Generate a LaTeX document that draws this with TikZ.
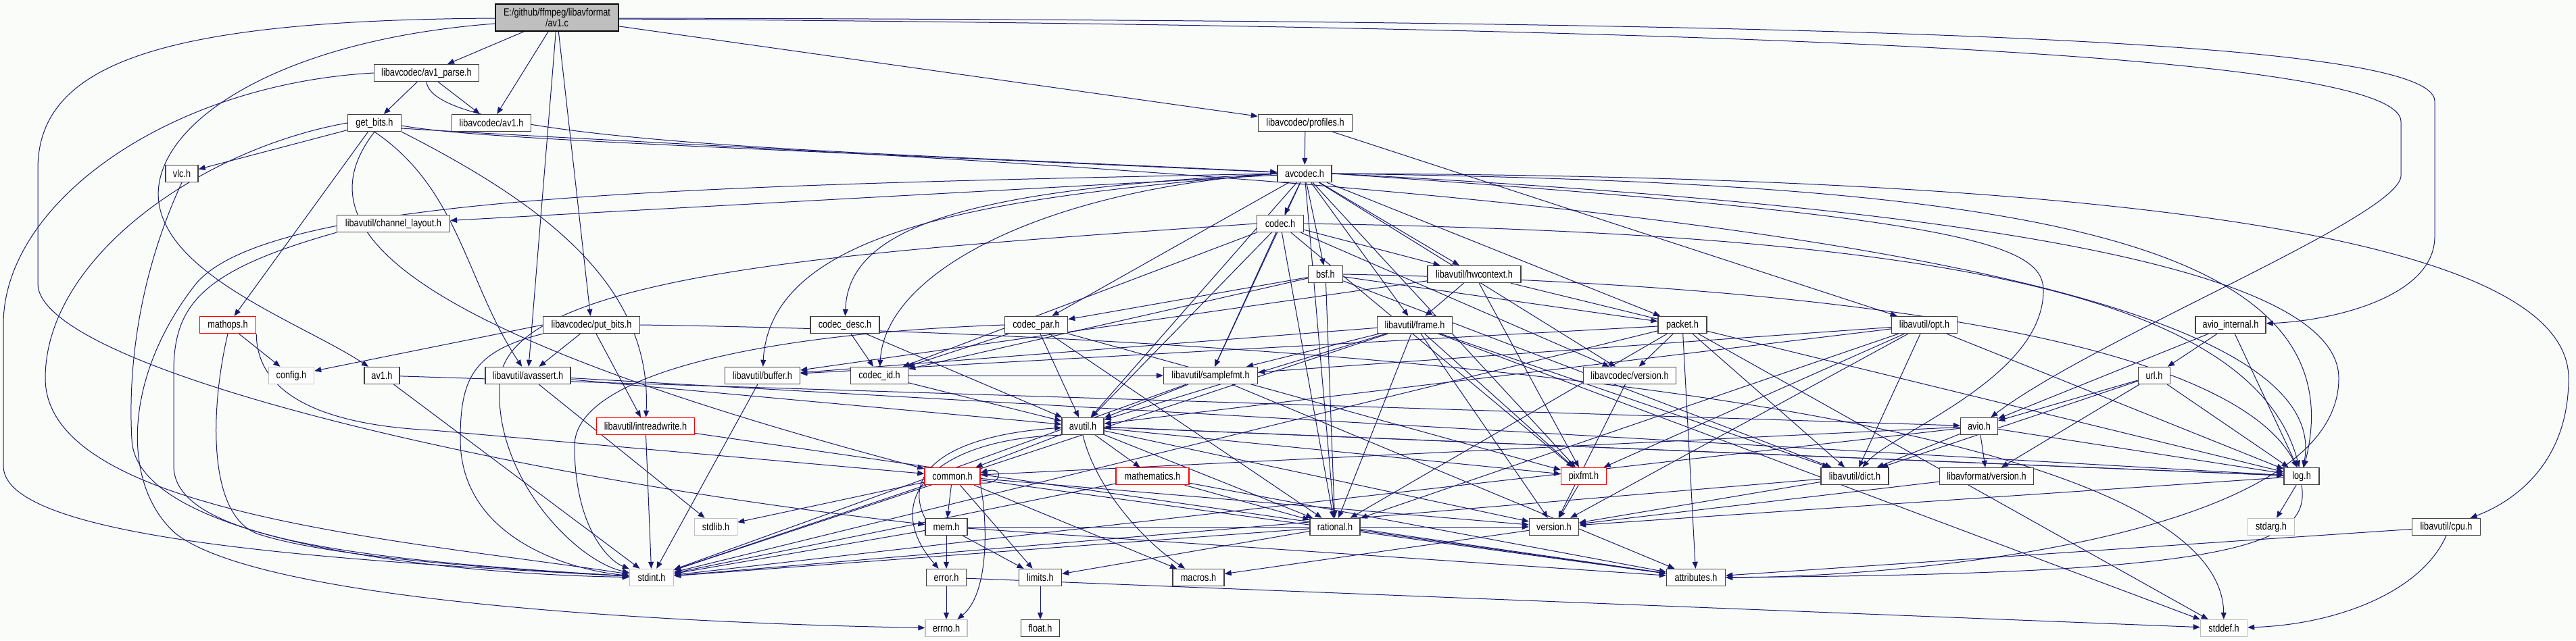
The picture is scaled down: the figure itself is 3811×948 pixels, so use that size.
\documentclass[tikz,border=0pt]{standalone}
\usepackage{fontspec}
\setmainfont{Liberation Sans}[FakeStretch=0.82]
\usetikzlibrary{arrows.meta}
\pgfdeclarelayer{bg}
\pgfsetlayers{bg,main}
\definecolor{edgec}{HTML}{191970}
\definecolor{bgc}{HTML}{FAFCFA}
\definecolor{boxc}{HTML}{404040}
\definecolor{redc}{HTML}{FF0000}
\definecolor{grayc}{HTML}{BFBFBF}
\tikzset{
 nb/.style={draw=boxc, line width=1.4pt, fill=white, rectangle, inner xsep=2pt, inner ysep=0pt, minimum height=25pt, font=\fontsize{15.5}{15.5}\selectfont},
 rb/.style={nb, draw=redc},
 gb/.style={nb, draw=grayc},
 edg/.style={draw=edgec, line width=1pt, -{Triangle[length=10pt,width=8pt]}},
}
\begin{document}
\begin{tikzpicture}[x=1pt,y=-1pt]
\useasboundingbox (0,0) rectangle (3811,948);
% nodes
\node[nb, fill=grayc, draw=black, minimum width=182pt, minimum height=40pt, align=center] (root) at (824,26) {E:/github/ffmpeg/libavformat\\/av1.c};
\node[nb,minimum width=155pt] (avparse) at (631,108) {libavcodec/av1\_parse.h};
\node[nb,minimum width=117pt] (lavcav1) at (727,182) {libavcodec/av1.h};
\node[nb,minimum width=79pt] (getbits) at (554,182) {get\_bits.h};
\node[nb,minimum width=139pt] (profiles) at (1931,182) {libavcodec/profiles.h};
\node[nb,minimum width=80pt] (avcodec) at (1930,257) {avcodec.h};
\node[nb,minimum width=48pt] (vlc) at (269,257) {vlc.h};
\node[nb,minimum width=167pt] (chlayout) at (582,331) {libavutil/channel\_layout.h};
\node[nb,minimum width=69pt] (codec) at (1894,331) {codec.h};
\node[nb,minimum width=51pt] (bsf) at (1961,406) {bsf.h};
\node[nb,minimum width=138pt] (hwctx) at (2181,406) {libavutil/hwcontext.h};
\node[rb,minimum width=83pt] (mathops) at (337,481) {mathops.h};
\node[nb,minimum width=143pt] (putbits) at (875,481) {libavcodec/put\_bits.h};
\node[nb,minimum width=102pt] (codecdesc) at (1250,481) {codec\_desc.h};
\node[nb,minimum width=93pt] (codecpar) at (1533,481) {codec\_par.h};
\node[nb,minimum width=111pt] (frame) at (2093,481) {libavutil/frame.h};
\node[nb,minimum width=72pt] (packet) at (2489,481) {packet.h};
\node[nb,minimum width=97pt] (opt) at (2847,481) {libavutil/opt.h};
\node[nb,minimum width=104pt] (aviointernal) at (3300,481) {avio\_internal.h};
\node[gb,minimum width=67pt] (config) at (431,556) {config.h};
\node[nb,minimum width=52pt] (avfav1) at (565,556) {av1.h};
\node[nb,minimum width=126pt] (avassert) at (781,556) {libavutil/avassert.h};
\node[nb,minimum width=111pt] (buffer) at (1128,556) {libavutil/buffer.h};
\node[nb,minimum width=85pt] (codecid) at (1301,556) {codec\_id.h};
\node[nb,minimum width=139pt] (samplefmt) at (1791,556) {libavutil/samplefmt.h};
\node[nb,minimum width=137pt] (lavcversion) at (2411,556) {libavcodec/version.h};
\node[nb,minimum width=47pt] (url) at (3187,556) {url.h};
\node[nb,minimum width=62pt] (avutil) at (1602,631) {avutil.h};
\node[rb,minimum width=145pt] (intrw) at (955,631) {libavutil/intreadwrite.h};
\node[nb,minimum width=55pt] (avio) at (2928,631) {avio.h};
\node[rb,minimum width=82pt] (common) at (1409,705) {common.h};
\node[rb,minimum width=108pt] (mathematics) at (1705,705) {mathematics.h};
\node[rb,minimum width=67pt] (pixfmt) at (2343,705) {pixfmt.h};
\node[nb,minimum width=100pt] (dict) at (2744,705) {libavutil/dict.h};
\node[nb,minimum width=139pt] (lavfversion) at (2939,705) {libavformat/version.h};
\node[nb,minimum width=52pt] (log) at (3405,705) {log.h};
\node[nb,minimum width=62pt] (mem) at (1400,780) {mem.h};
\node[gb,minimum width=63pt] (stdlib) at (1059,780) {stdlib.h};
\node[nb,minimum width=74pt] (rational) at (1975,780) {rational.h};
\node[nb,minimum width=73pt] (version) at (2299,780) {version.h};
\node[gb,minimum width=69pt] (stdarg) at (3360,780) {stdarg.h};
\node[nb,minimum width=101pt] (cpu) at (3619,780) {libavutil/cpu.h};
\node[gb,minimum width=65pt] (stdint) at (964,855) {stdint.h};
\node[nb,minimum width=59pt] (error) at (1400,855) {error.h};
\node[nb,minimum width=63pt] (limits) at (1539,855) {limits.h};
\node[nb,minimum width=76pt] (macros) at (1773,855) {macros.h};
\node[nb,minimum width=87pt] (attributes) at (2509,855) {attributes.h};
\node[gb,minimum width=62pt] (errno) at (1400,930) {errno.h};
\node[nb,minimum width=57pt] (float) at (1539,930) {float.h};
\node[gb,minimum width=69pt] (stddef) at (3290,930) {stddef.h};
\begin{pgfonlayer}{bg}
\fill[bgc] (0,0) rectangle (3811,948);
% root
\draw[edg] (root) -- (avparse);
\draw[edg] (root) -- (lavcav1);
\draw[edg] (root) -- (avassert);
\draw[edg] (root) -- (putbits);
\draw[edg] (root) -- (profiles);
\draw[edg] ([yshift=-9pt]root.west) .. controls (400,60) and (220,190) .. (235,300) .. controls (250,410) and (450,480) .. (avfav1);
\draw[edg] ([yshift=-1pt]root.west) .. controls (250,30) and (56,90) .. (56,250) -- (56,420) .. controls (56,540) and (700,700) .. (mem);
\draw[edg] ([yshift=-2pt]root.east) .. controls (2600,40) and (3552,80) .. (3552,180) -- (3552,260) .. controls (3552,320) and (3100,500) .. (avio);
\draw[edg] ([yshift=-1pt]root.east) .. controls (2800,30) and (3602,60) .. (3602,150) -- (3602,350) .. controls (3602,440) and (3450,475) .. (aviointernal);
% av1_parse
\draw[edg] (avparse) -- (lavcav1);
\draw[edg] (avparse) -- (getbits);
\draw[edg] (avparse.south) .. controls (640,215) and (1300,225) .. (avcodec);
\draw[edg] (avparse.west) .. controls (250,125) and (5,300) .. (5,480) -- (5,690) .. controls (5,800) and (500,830) .. (stdint);
% get_bits
\draw[edg] (getbits) -- (vlc);
\draw[edg] (getbits) -- (mathops);
\draw[edg] ([yshift=-4pt]getbits.east) .. controls (700,205) and (1000,215) .. (avcodec);
\draw[edg] ([yshift=-8pt]getbits.east) .. controls (1400,240) and (3480,300) .. (log);
\draw[edg] (getbits.south east) .. controls (800,300) and (965,420) .. (intrw);
\draw[edg] (getbits.south) .. controls (680,280) and (690,420) .. (avassert);
\draw[edg] (getbits.south) .. controls (450,330) and (560,480) .. (common);
\draw[edg] (getbits.west) .. controls (300,220) and (67,380) .. (67,560) .. controls (67,760) and (600,800) .. (stdint);
% vlc, channel_layout, mathops
\draw[edg] (vlc.south) .. controls (200,420) and (190,560) .. (195,650) .. controls (200,800) and (650,850) .. (stdint);
\draw[edg] (chlayout.south west) .. controls (300,400) and (257,450) .. (257,550) -- (257,690) .. controls (257,800) and (550,830) .. (stdint);
\draw[edg] (mathops) -- (config);
\draw[edg] (mathops.south) .. controls (312,600) and (305,760) .. (380,790) .. controls (500,830) and (800,845) .. (stdint);
\draw[edg] (mathops.south east) .. controls (380,590) and (490,630) .. (640,637) -- (common);
% put_bits
\draw[edg] (putbits) -- (avassert);
\draw[edg] (putbits) -- (intrw);
\draw[edg] (putbits.west) -- (config);
\draw[edg] (putbits.south west) .. controls (700,520) and (681,560) .. (681,650) .. controls (681,800) and (850,845) .. (stdint);
\draw[edg] (putbits.east) .. controls (1600,490) and (3285,560) .. (stddef);
% codec_desc, codec_par
\draw[edg] (codecdesc) -- (avutil);
\draw[edg] (codecdesc) -- (codecid);
\draw[edg] (codecpar) -- (codecid);
\draw[edg] (codecpar) -- (avutil);
\draw[edg] (codecpar) -- (rational);
\draw[edg] (codecpar) -- (pixfmt);
\draw[edg] (codecpar.west) .. controls (1100,495) and (850,560) .. (850,660) .. controls (850,780) and (900,830) .. (stdint);
% avcodec
\draw[edg] (avcodec) -- (codec);
\draw[edg] (avcodec) -- (bsf);
\draw[edg] (avcodec) -- (hwctx);
\draw[edg] (avcodec) -- (frame);
\draw[edg] (avcodec) -- (packet);
\draw[edg] (avcodec) -- (lavcversion);
\draw[edg] (avcodec) -- (samplefmt);
\draw[edg] (avcodec) -- (avutil);
\draw[edg] (avcodec) -- (pixfmt);
\draw[edg] (avcodec) -- (rational);
\draw[edg] (avcodec) -- (codecpar);
\draw[edg] (avcodec) -- (chlayout);
\draw[edg] (avcodec.west) .. controls (1500,290) and (1140,330) .. (buffer);
\draw[edg] (avcodec.west) .. controls (1450,280) and (1255,330) .. (codecdesc);
\draw[edg] (avcodec.west) .. controls (1550,280) and (1310,400) .. (codecid);
\draw[edg] (avcodec.west) .. controls (1000,275) and (400,290) .. (290,420) .. controls (180,560) and (180,720) .. (260,790) .. controls (400,900) and (1100,925) .. (errno);
\draw[edg] (avcodec.east) .. controls (3000,260) and (3800,330) .. (3800,560) .. controls (3800,700) and (3700,750) .. (cpu);
\draw[edg] (avcodec.east) .. controls (2900,270) and (3500,330) .. (log);
\draw[edg] (avcodec.east) .. controls (2900,320) and (3023,360) .. (3023,430) .. controls (3023,560) and (2800,640) .. (dict);
\draw[edg] (avcodec.east) .. controls (2800,300) and (3460,380) .. (3460,560) .. controls (3460,800) and (2800,855) .. (attributes);
% codec
\draw[edg] (codec) -- (avutil);
\draw[edg] (codec) -- (hwctx);
\draw[edg] (codec) -- (pixfmt);
\draw[edg] (codec) -- (rational);
\draw[edg] (codec) -- (samplefmt);
\draw[edg] (codec) -- (codecid);
\draw[edg] (codec) -- (lavcversion);
\draw[edg] (codec.east) .. controls (2800,345) and (3330,420) .. (log);
\draw[edg] (codec.west) .. controls (1300,370) and (760,400) .. (740,560) .. controls (725,700) and (850,830) .. (stdint);
% bsf
\draw[edg] (bsf) -- (dict);
\draw[edg] (bsf) -- (rational);
\draw[edg] (bsf) -- (codecid);
\draw[edg] (bsf) -- (codecpar);
\draw[edg] (bsf) -- (packet);
\draw[edg] (bsf.east) .. controls (2700,420) and (3300,500) .. (log);
% hwcontext
\draw[edg] (hwctx) -- (buffer);
\draw[edg] (hwctx) -- (frame);
\draw[edg] (hwctx) -- (pixfmt);
\draw[edg] (hwctx) -- (log);
% frame
\draw[edg] (frame) -- (stddef);
\draw[edg] (frame) -- (stdint);
\draw[edg] (frame) -- (avutil);
\draw[edg] (frame) -- (buffer);
\draw[edg] (frame) -- (dict);
\draw[edg] (frame) -- (rational);
\draw[edg] (frame) -- (samplefmt);
\draw[edg] (frame) -- (pixfmt);
\draw[edg] (frame) -- (version);
% packet
\draw[edg] (packet) -- (stddef);
\draw[edg] (packet) -- (stdint);
\draw[edg] (packet) -- (attributes);
\draw[edg] (packet) -- (buffer);
\draw[edg] (packet) -- (dict);
\draw[edg] (packet) -- (rational);
\draw[edg] (packet) -- (lavcversion);
% opt
\draw[edg] (opt) -- (rational);
\draw[edg] (opt) -- (avutil);
\draw[edg] (opt) -- (dict);
\draw[edg] (opt) -- (log);
\draw[edg] (opt) -- (pixfmt);
\draw[edg] (opt) -- (samplefmt);
\draw[edg] (opt) -- (version);
% profiles
\draw[edg] (profiles) -- (avcodec);
\draw[edg] (profiles) -- (opt);
% avio_internal, url
\draw[edg] (aviointernal) -- (avio);
\draw[edg] (aviointernal) -- (url);
\draw[edg] (aviointernal) -- (log);
\draw[edg] (url) -- (avio);
\draw[edg] (url) -- (lavfversion);
\draw[edg] (url) -- (dict);
\draw[edg] (url) -- (log);
% av1.h, avassert, buffer, codec_id, samplefmt
\draw[edg] (avfav1) -- (stdint);
\draw[edg] (avfav1) -- (avio);
\draw[edg] (avassert) -- (stdlib);
\draw[edg] (avassert) -- (avutil);
\draw[edg] (avassert) -- (log);
\draw[edg] (buffer) -- (stdint);
\draw[edg] (codecid) -- (avutil);
\draw[edg] (codecid) -- (samplefmt);
\draw[edg] (samplefmt) -- (stdint);
\draw[edg] (samplefmt) -- (avutil);
\draw[edg] (samplefmt) -- (attributes);
\draw[edg] (lavcversion) -- (version);
% avutil
\draw[edg] (avutil) -- (common);
\draw[edg] (avutil.south west) .. controls (1380,650) and (1300,740) .. (error);
\draw[edg] (avutil) -- (rational);
\draw[edg] (avutil) -- (version);
\draw[edg] (avutil.south) .. controls (1620,720) and (1690,800) .. (macros);
\draw[edg] (avutil) -- (mathematics);
\draw[edg] (avutil) -- (log);
\draw[edg] (avutil) -- (pixfmt);
% intreadwrite, avio
\draw[edg] (intrw) -- (stdint);
\draw[edg] (intrw) -- (attributes);
\draw[edg] (avio) -- (stdint);
\draw[edg] (avio) -- (common);
\draw[edg] (avio) -- (dict);
\draw[edg] (avio) -- (log);
\draw[edg] (avio) -- (lavfversion);
% common
\draw[edg] (common) -- (mem);
\draw[edg] (common.south east) .. controls (1462,780) and (1462,880) .. (errno);
\draw[edg] (common) -- (limits);
\draw[edg] (common) -- (stdint);
\draw[edg] (common) -- (stdlib);
\draw[edg] (common) -- (attributes);
\draw[edg] (common) -- (macros);
\draw[edg] (common) -- (version);
\draw[edg] ([yshift=-10pt]common.east) .. controls (1485,718) and (1485,690) .. ([yshift=5pt]common.east);
% mem
\draw[edg] (mem) -- (limits);
\draw[edg] (mem) -- (stdint);
\draw[edg] (mem) -- (attributes);
\draw[edg] (mem) -- (error);
\draw[edg] (mem) -- (version);
\draw[edg] (mem.north west) .. controls (1335,700) and (1400,645) .. (avutil);
% mathematics, pixfmt, dict, lavfversion
\draw[edg] (mathematics) -- (stdint);
\draw[edg] (mathematics) -- (attributes);
\draw[edg] (mathematics) -- (rational);
\draw[edg] (pixfmt) -- (version);
\draw[edg] (dict) -- (stdint);
\draw[edg] (dict) -- (version);
\draw[edg] (lavfversion) -- (version);
% log
\draw[edg] (log) -- (stdarg);
\draw[edg] (log) -- (avutil);
\draw[edg] (log.south) .. controls (3420,810) and (3300,850) .. (attributes);
\draw[edg] (log) -- (version);
% rational, version, cpu, error, limits
\draw[edg] (rational) -- (stdint);
\draw[edg] (rational) -- (limits);
\draw[edg] (rational) -- (attributes);
\draw[edg] (version) -- (macros);
\draw[edg] (cpu.south) .. controls (3580,880) and (3450,925) .. (stddef);
\draw[edg] (cpu) -- (attributes);
\draw[edg] (error) -- (errno);
\draw[edg] (error) -- (stddef);
\draw[edg] (limits) -- (float);
\end{pgfonlayer}
\end{tikzpicture}
\end{document}
